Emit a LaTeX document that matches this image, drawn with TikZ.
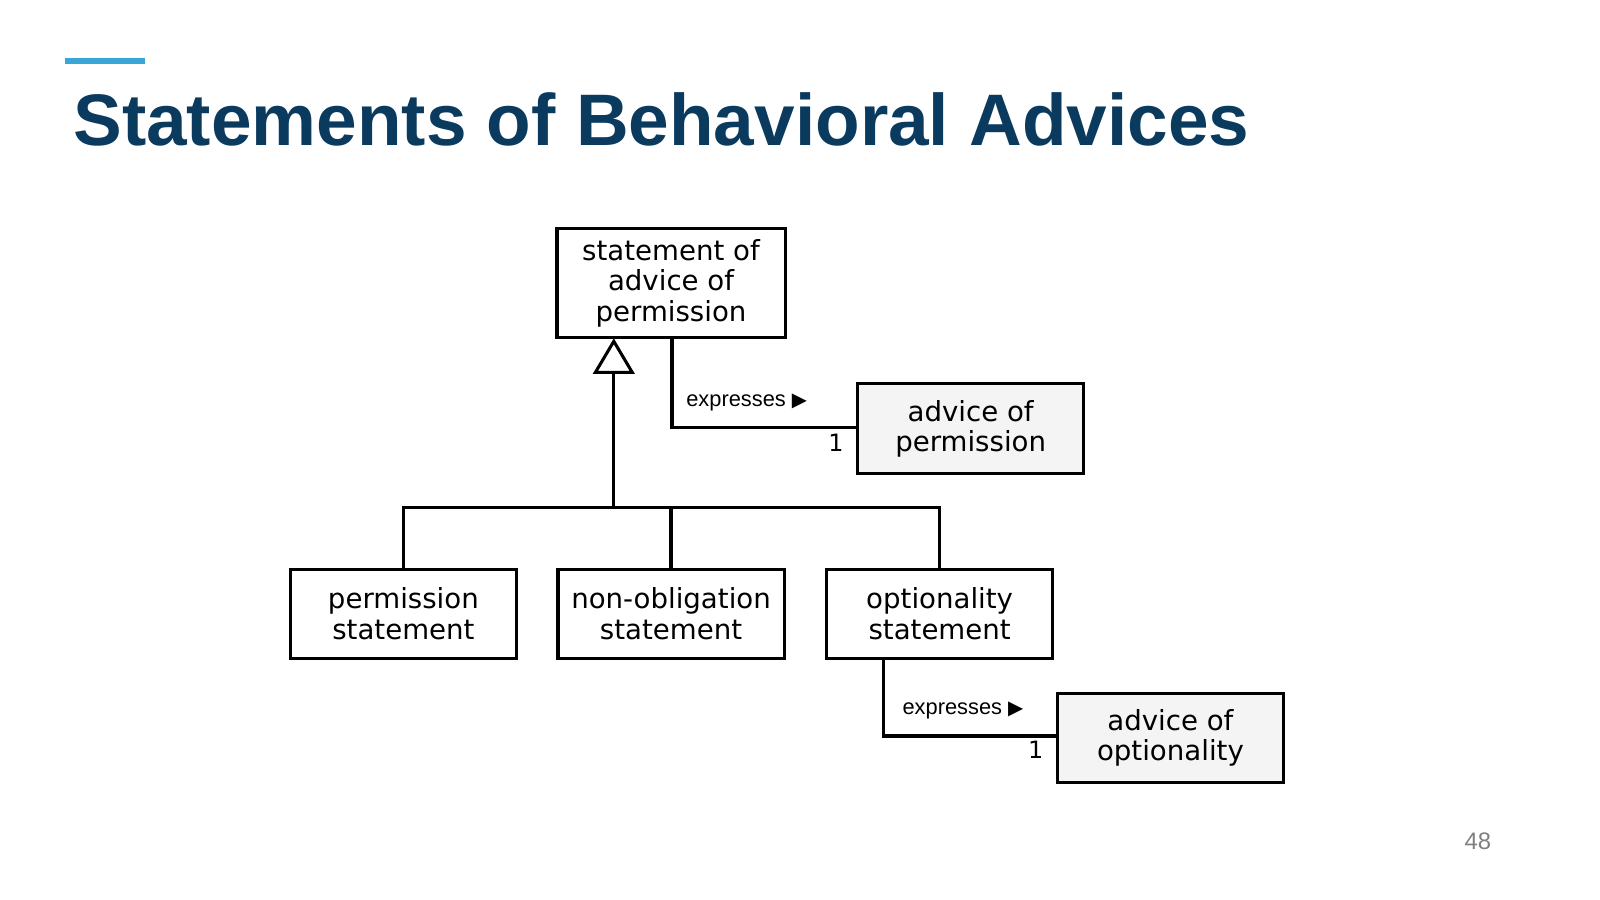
\documentclass[tikz,border=0pt]{standalone}
\usepackage{fontspec}
\setmainfont{Liberation Sans}
\newfontfamily\boxfont{DejaVu Sans}
\usetikzlibrary{positioning, arrows.meta}
\definecolor{TitleBlue}{HTML}{0B3A5F}
\definecolor{AccentBlue}{HTML}{3AA6D6}
\definecolor{BoxGray}{HTML}{F4F4F4}
\newcommand{\dirtri}{{\boxfont\scalebox{0.9}{▶}}}
\begin{document}
\begin{tikzpicture}[x=0.01cm, y=-0.01cm,
    cls/.style={rectangle, draw=black, line width=0.9pt, inner sep=0pt,
                minimum width=2.33cm, minimum height=0.92cm, align=center,
                font=\boxfont\fontsize{8.1}{8.9}\selectfont},
    adv/.style={cls, fill=BoxGray},
    lbl/.style={font=\fontsize{6.4}{8}\selectfont, inner sep=1pt},
    link/.style={line width=0.9pt}
]
    \useasboundingbox (0,0) rectangle (1650,928);
    % Title
    \fill[AccentBlue] (67,60) rectangle (150,66);
    \node[anchor=base west, inner sep=0pt, text=TitleBlue,
          font=\bfseries\fontsize{21.4}{24}\selectfont] (title) at (75,150)
          {Statements of Behavioral Advices};

    % Classes
    \node[cls, minimum width=2.35cm, minimum height=1.13cm] (stmt) at (692,292)
        {statement of\\advice of\\permission};
    \node[adv] (advperm) at (1001,442) {advice of\\permission};
    \node[cls] (perm) at (416,633) {permission\\statement};
    \node[cls] (nonob) at (692,633) {non-obligation\\statement};
    \node[cls] (opt) at (969,633) {optionality\\statement};
    \node[adv] (advopt) at (1207,761) {advice of\\optionality};

    % Generalization
    \coordinate (tip) at (633,352);
    \coordinate (bar) at (633,523);
    \draw[link] (bar) -- (633,384);
    \draw[link, fill=white] (tip) -- (614,384) -- (652,384) -- cycle;
    \draw[link] (perm.north) |- (bar) -| (opt.north);
    \draw[link] (nonob.north) -- (nonob.north |- bar);

    % Associations
    \draw[link] (693,348) |- (advperm.west |- 0,441) coordinate (a1);
    \node[lbl] at (770,415) {expresses \dirtri};
    \node[lbl, font=\boxfont\fontsize{7}{8}\selectfont] at (862,457) {1};
    \draw[link] (911,679) |- (advopt.west |- 0,759) coordinate (a2);
    \node[lbl] at (993,733) {expresses \dirtri};
    \node[lbl, font=\boxfont\fontsize{7}{8}\selectfont] at (1068,773) {1};

    % Page number
    \node[text=gray, font=\fontsize{7}{8}\selectfont] (page) at (1524,868) {48};
\end{tikzpicture}
\end{document}
